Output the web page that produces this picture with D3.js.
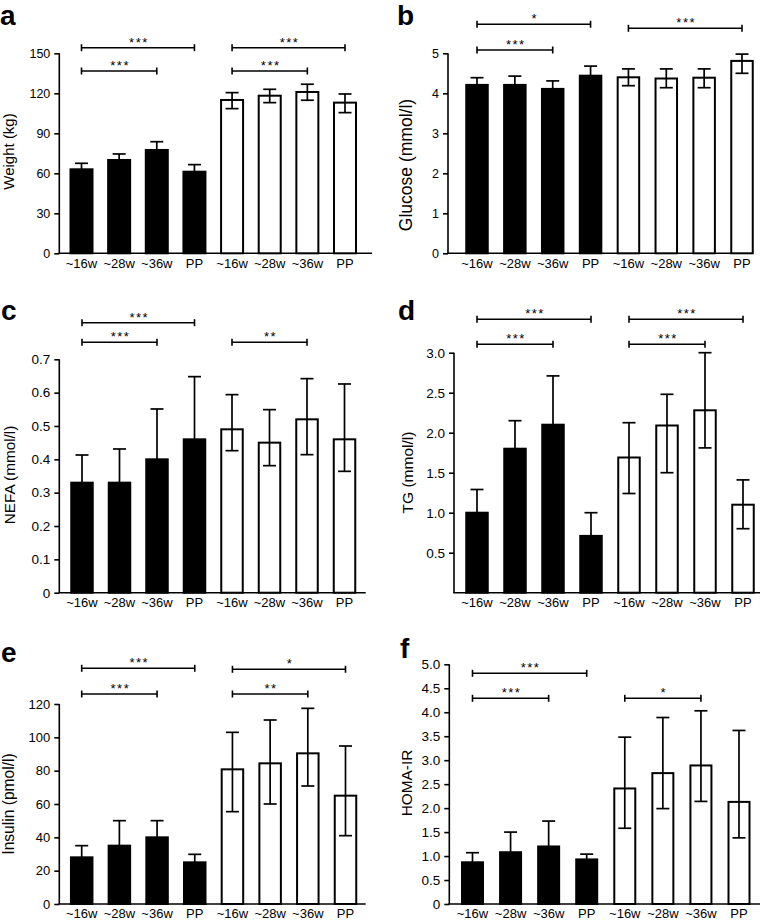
<!DOCTYPE html>
<html><head><meta charset="utf-8">
<script src="https://cdn.jsdelivr.net/npm/d3@7"></script>
<style>
body{margin:0;background:#fff}
svg{display:block}
text{font-family:"Liberation Sans",Arial,Helvetica,sans-serif;fill:#000}
</style>
</head><body>
<svg id="chart" width="767" height="922"></svg>
<script>
// ---------- data ----------
const categories = ["~16w","~28w","~36w","PP","~16w","~28w","~36w","PP"];
const groups = ["black","black","black","black","white","white","white","white"];

const weightMean  = [63, 70, 77.5, 61.2, 115, 118.2, 121, 113];
const weightUpper = [67.5, 74.5, 83.7, 66.5, 120.5, 123, 126.8, 119.5];
const weightLower = [58.5, 65.5, 71.3, 55.9, 108.5, 113, 114.8, 105.5];
const weightTicks = [0, 30, 60, 90, 120, 150];
const weightTickLabels = ["0","30","60","90","120","150"];
const weightSig = [[0,3,"***"],[0,2,"***"],[4,7,"***"],[4,6,"***"]];

const glucoseMean  = [4.21, 4.21, 4.11, 4.44, 4.40, 4.37, 4.39, 4.81];
const glucoseUpper = [4.39, 4.43, 4.31, 4.68, 4.61, 4.61, 4.61, 4.98];
const glucoseLower = [4.03, 3.99, 3.91, 4.20, 4.19, 4.14, 4.14, 4.50];
const glucoseTicks = [0, 1, 2, 3, 4, 5];
const glucoseTickLabels = ["0","1","2","3","4","5"];
const glucoseSig = [[0,3,"*"],[0,2,"***"],[4,7,"***"]];

const nefaMean  = [0.33, 0.33, 0.40, 0.46, 0.49, 0.45, 0.52, 0.46];
const nefaUpper = [0.413, 0.431, 0.551, 0.648, 0.594, 0.549, 0.642, 0.626];
const nefaLower = [0.247, 0.229, 0.249, 0.272, 0.426, 0.381, 0.414, 0.364];
const nefaTicks = [0, 0.1, 0.2, 0.3, 0.4, 0.5, 0.6, 0.7];
const nefaTickLabels = ["0","0.1","0.2","0.3","0.4","0.5","0.6","0.7"];
const nefaSig = [[0,3,"***"],[0,2,"***"],[4,6,"**"]];

const tgMean  = [1.00, 1.80, 2.10, 0.71, 1.69, 2.09, 2.28, 1.10];
const tgUpper = [1.29, 2.15, 2.71, 1.00, 2.125, 2.48, 3.00, 1.41];
const tgLower = [0.71, 1.45, 1.49, 0.42, 1.24, 1.50, 1.81, 0.80];
const tgTicks = [0.5, 1.0, 1.5, 2.0, 2.5, 3.0];
const tgTickLabels = ["0.5","1.0","1.5","2.0","2.5","3.0"];
const tgSig = [[0,3,"***"],[0,2,"***"],[4,7,"***"],[4,6,"***"]];

const insulinMean  = [28, 35, 40, 25, 80.8, 84.4, 90.4, 65];
const insulinUpper = [35, 50, 50, 29.8, 103, 110.4, 117.4, 94.8];
const insulinLower = [21, 20, 30, 20.2, 55.4, 60, 70.8, 41];
const insulinTicks = [0, 20, 40, 60, 80, 100, 120];
const insulinTickLabels = ["0","20","40","60","80","100","120"];
const insulinSig = [[0,3,"***"],[0,2,"***"],[4,7,"*"],[4,6,"**"]];

const homaMean  = [0.87, 1.08, 1.20, 0.93, 2.41, 2.73, 2.89, 2.13];
const homaUpper = [1.07, 1.50, 1.73, 1.04, 3.48, 3.89, 4.03, 3.62];
const homaLower = [0.67, 0.66, 0.67, 0.82, 1.58, 1.99, 2.14, 1.38];
const homaTicks = [0, 0.5, 1.0, 1.5, 2.0, 2.5, 3.0, 3.5, 4.0, 4.5, 5.0];
const homaTickLabels = ["0","0.5","1.0","1.5","2.0","2.5","3.0","3.5","4.0","4.5","5.0"];
const homaSig = [[0,3,"***"],[0,2,"***"],[4,6,"*"]];

// ---------- layout ----------
const panels = [
  {letter:"a", title:"Weight (kg)", mean:weightMean, upper:weightUpper, lower:weightLower,
   ticks:weightTicks, tickLabels:weightTickLabels, sig:weightSig, yMax:150,
   yTop:53.3, yBot:253.3, axisX:59.3, xEnd:372, c0:81.5, c7:345, bw:22,
   sigY:[47.7,71,47.7,71], letterPos:[0,25], titlePos:[14,151.5], titleSize:15, tickSize:12.5},
  {letter:"b", title:"Glucose (mmol/l)", mean:glucoseMean, upper:glucoseUpper, lower:glucoseLower,
   ticks:glucoseTicks, tickLabels:glucoseTickLabels, sig:glucoseSig, yMax:5,
   yTop:53.3, yBot:253.3, axisX:448, xEnd:752, c0:477, c7:742, bw:21.5,
   sigY:[24.3,50,28.3], letterPos:[397,25], titlePos:[412,165], titleSize:17.5, tickSize:12.5},
  {letter:"c", title:"NEFA (mmol/l)", mean:nefaMean, upper:nefaUpper, lower:nefaLower,
   ticks:nefaTicks, tickLabels:nefaTickLabels, sig:nefaSig, yMax:0.7,
   yTop:359.3, yBot:592.7, axisX:59.3, xEnd:365.7, c0:82, c7:344.5, bw:21.5,
   sigY:[322.7,342.3,342.3], letterPos:[1,320], titlePos:[14.5,475], titleSize:15.3, tickSize:13.5},
  {letter:"d", title:"TG (mmol/l)", mean:tgMean, upper:tgUpper, lower:tgLower,
   ticks:tgTicks, tickLabels:tgTickLabels, sig:tgSig, yMax:3,
   yTop:352.7, yBot:592.7, axisX:454, xEnd:760, c0:477, c7:743, bw:21.5,
   sigY:[319.3,344.3,319.3,344.3], letterPos:[398,320], titlePos:[413,472.5], titleSize:15.5, tickSize:13.5},
  {letter:"e", title:"Insulin (pmol/l)", mean:insulinMean, upper:insulinUpper, lower:insulinLower,
   ticks:insulinTicks, tickLabels:insulinTickLabels, sig:insulinSig, yMax:120,
   yTop:704, yBot:904, axisX:59.3, xEnd:365.7, c0:81.7, c7:345.5, bw:21.5,
   sigY:[668.3,694,669.3,694], letterPos:[1,662], titlePos:[14,804], titleSize:15.6, tickSize:13},
  {letter:"f", title:"HOMA-IR", mean:homaMean, upper:homaUpper, lower:homaLower,
   ticks:homaTicks, tickLabels:homaTickLabels, sig:homaSig, yMax:5,
   yTop:664.3, yBot:904, axisX:449.3, xEnd:760, c0:472.5, c7:739, bw:21,
   sigY:[673.3,698.3,698.3], letterPos:[400,658], titlePos:[412,783], titleSize:15.4, tickSize:13.5}
];

const svg = d3.select("#chart");
const idx = d3.range(categories.length);

panels.forEach(p => {
  const g = svg.append("g");
  const step = (p.c7 - p.c0) / (idx.length - 1);
  const x = d3.scaleBand().domain(idx)
    .range([p.c0 - step/2, p.c7 + step/2])
    .paddingInner(1 - p.bw/step).paddingOuter((1 - p.bw/step)/2);
  const y = d3.scaleLinear().domain([0, p.yMax]).range([p.yBot, p.yTop]);
  const cx = i => x(i) + x.bandwidth()/2;

  // y axis
  const ya = g.append("g").attr("transform", `translate(${p.axisX},0)`)
    .call(d3.axisLeft(y).tickValues(p.ticks).tickFormat((d,i)=>p.tickLabels[i])
      .tickSize(5).tickSizeOuter(0).tickPadding(4));
  ya.selectAll("path.domain").attr("stroke","#000").attr("stroke-width",1.6)
    .attr("d", `M0,${y(0)}V${y(p.yMax)}`);
  ya.selectAll(".tick line").attr("stroke","#000").attr("stroke-width",1.6);
  ya.selectAll(".tick text").style("font-size", p.tickSize+"px")
    .style("font-family","'Liberation Sans',Arial,Helvetica,sans-serif").attr("fill","#000");

  // x axis line
  g.append("line").attr("x1", p.axisX - 0.8).attr("x2", p.xEnd)
    .attr("y1", y(0)).attr("y2", y(0)).attr("stroke","#000").attr("stroke-width",1.6);
  const xa = g.append("g").attr("transform", `translate(0,${y(0)})`)
    .call(d3.axisBottom(x).tickSize(0).tickPadding(5).tickFormat(i=>categories[i]));
  xa.select("path.domain").remove();
  xa.selectAll(".tick text").style("font-size","13px")
    .style("font-family","'Liberation Sans',Arial,Helvetica,sans-serif").attr("fill","#000");

  // bars
  g.selectAll("rect.bar").data(idx).join("rect").attr("class","bar")
    .attr("x", i => x(i)).attr("width", x.bandwidth())
    .attr("y", i => y(p.mean[i])).attr("height", i => y(0) - y(p.mean[i]))
    .attr("fill", i => groups[i] === "black" ? "#000" : "#fff")
    .attr("stroke","#000").attr("stroke-width",2);

  // error bars
  const capW = 13;
  const eg = g.append("g").attr("stroke","#000").attr("stroke-width",1.7);
  idx.forEach(i => {
    eg.append("line").attr("x1",cx(i)).attr("x2",cx(i))
      .attr("y1",y(p.lower[i])).attr("y2",y(p.upper[i]));
    eg.append("line").attr("x1",cx(i)-capW/2).attr("x2",cx(i)+capW/2)
      .attr("y1",y(p.upper[i])).attr("y2",y(p.upper[i]));
    eg.append("line").attr("x1",cx(i)-capW/2).attr("x2",cx(i)+capW/2)
      .attr("y1",y(p.lower[i])).attr("y2",y(p.lower[i]));
  });

  // significance brackets
  p.sig.forEach((s, k) => {
    const yy = p.sigY[k], x1 = cx(s[0]), x2 = cx(s[1]);
    const bg = g.append("g").attr("stroke","#000").attr("stroke-width",1.6);
    bg.append("line").attr("x1",x1).attr("x2",x2).attr("y1",yy).attr("y2",yy);
    bg.append("line").attr("x1",x1).attr("x2",x1).attr("y1",yy-3.5).attr("y2",yy+3.5);
    bg.append("line").attr("x1",x2).attr("x2",x2).attr("y1",yy-3.5).attr("y2",yy+3.5);
    g.append("text").attr("x",(x1+x2)/2 + 1).attr("y", yy - 1)
      .attr("text-anchor","middle").style("font-size","13px")
      .style("letter-spacing","1.5px").text(s[2]);
  });

  // panel letter
  g.append("text").attr("x",p.letterPos[0]).attr("y",p.letterPos[1])
    .style("font-size","28px").style("font-weight","bold").text(p.letter);

  // y title
  g.append("text").attr("transform",`translate(${p.titlePos[0]},${p.titlePos[1]}) rotate(-90)`)
    .attr("text-anchor","middle").style("font-size",p.titleSize+"px").text(p.title);
});
</script>
</body></html>
